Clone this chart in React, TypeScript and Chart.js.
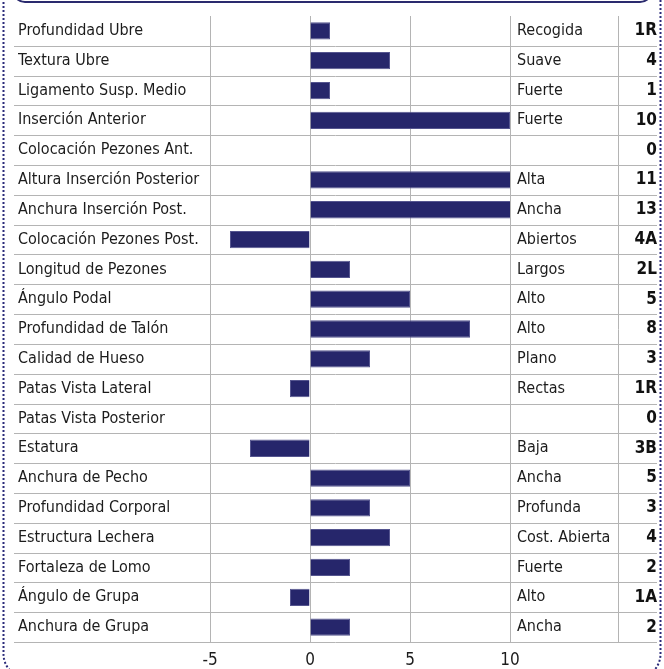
import React, { useEffect, useRef } from "react";
import { Chart, registerables } from "chart.js";

Chart.register(...registerables);

const categories = [
  "Profundidad Ubre",
  "Textura Ubre",
  "Ligamento Susp. Medio",
  "Inserción Anterior",
  "Colocación Pezones Ant.",
  "Altura Inserción Posterior",
  "Anchura Inserción Post.",
  "Colocación Pezones Post.",
  "Longitud de Pezones",
  "Ángulo Podal",
  "Profundidad de Talón",
  "Calidad de Hueso",
  "Patas Vista Lateral",
  "Patas Vista Posterior",
  "Estatura",
  "Anchura de Pecho",
  "Profundidad Corporal",
  "Estructura Lechera",
  "Fortaleza de Lomo",
  "Ángulo de Grupa",
  "Anchura de Grupa",
];

const values = [1, 4, 1, 10, 0, 11, 13, -4, 2, 5, 8, 3, -1, 0, -3, 5, 3, 4, 2, -1, 2];

const descriptors = [
  "Recogida", "Suave", "Fuerte", "Fuerte", "", "Alta", "Ancha", "Abiertos", "Largos",
  "Alto", "Alto", "Plano", "Rectas", "", "Baja", "Ancha", "Profunda", "Cost. Abierta",
  "Fuerte", "Alto", "Ancha",
];

const scoreLabels = [
  "1R", "4", "1", "10", "0", "11", "13", "4A", "2L", "5", "8", "3", "1R", "0", "3B",
  "5", "3", "4", "2", "1A", "2",
];

const xMin = -5;
const xMax = 10;
const xStep = 5;

const FONT = "'Liberation Sans Narrow', 'DejaVu Sans Condensed', 'Arial Narrow', sans-serif";
const NAVY = "#26266b";
const GRID = "#b4b4b4";
const TEXT = "#1c1c1c";

const framePlugin = {
  id: "frame",
  beforeDatasetsDraw(chart: any) {
    const { ctx, chartArea, scales } = chart;
    const y = scales.y;
    ctx.save();
    ctx.strokeStyle = GRID;
    ctx.lineWidth = 1;
    const n = categories.length;
    for (let i = 1; i <= n; i++) {
      let yy;
      if (i < n) yy = (y.getPixelForValue(i - 1) + y.getPixelForValue(i)) / 2;
      else yy = chartArea.bottom;
      yy = Math.round(yy) + 0.5;
      ctx.beginPath();
      ctx.moveTo(14, yy);
      ctx.lineTo(657, yy);
      ctx.stroke();
    }
    ctx.restore();
  },
  afterDraw(chart: any) {
    const { ctx } = chart;
    ctx.save();
    ctx.strokeStyle = "#2a2a6e";
    ctx.lineWidth = 2;
    ctx.beginPath();
    const l = 13, r = 652, b = 2, rad = 12;
    ctx.moveTo(l, -20);
    ctx.arcTo(l, b, l + rad, b, rad);
    ctx.arcTo(r, b, r, -20, rad);
    ctx.lineTo(r, -20);
    ctx.stroke();
    ctx.strokeStyle = "#2b2b7a";
    ctx.lineWidth = 2;
    ctx.setLineDash([2, 2]);
    ctx.beginPath();
    const L = 3.5, R = 660.5, B = 678, T = -30, rr = 24;
    ctx.moveTo(L, T);
    ctx.arcTo(L, B, L + rr, B, rr);
    ctx.arcTo(R, B, R, T, rr);
    ctx.lineTo(R, T);
    ctx.stroke();
    ctx.restore();
  },
};

export default function App() {
  const ref = useRef<HTMLCanvasElement | null>(null);
  useEffect(() => {
    document.body.style.margin = "0";
    const canvas = ref.current!;
    const chart = new Chart(canvas, {
      type: "bar",
      data: {
        labels: categories,
        datasets: [
          {
            data: values,
            backgroundColor: NAVY,
            borderColor: "#55558f",
            borderWidth: 1,
            barPercentage: 0.58,
            categoryPercentage: 1,
          },
        ],
      },
      options: {
        indexAxis: "y",
        animation: false,
        responsive: false,
        maintainAspectRatio: false,
        layout: { padding: { left: 18, right: 7, top: 16, bottom: 0 } },
        plugins: { legend: { display: false }, tooltip: { enabled: false } },
        scales: {
          x: {
            type: "linear",
            min: xMin,
            max: xMax,
            afterFit(s: any) {
              s.height = 27;
            },
            ticks: {
              stepSize: xStep,
              color: TEXT,
              font: { family: FONT, size: 17, lineHeight: 1 },
              padding: 10,
            },
            grid: { color: GRID, drawTicks: false, lineWidth: 1 },
            border: { display: false },
          },
          y: {
            type: "category",
            position: "left",
            offset: true,
            afterFit(s: any) {
              s.width = 192;
              s.paddingTop = 0;
              s.paddingBottom = 0;
            },
            ticks: {
              crossAlign: "far",
              padding: 0,
              color: TEXT,
              font: { family: FONT, size: 16 },
              autoSkip: false,
            },
            grid: { display: false },
            border: { display: false },
          },
          y2: {
            type: "category",
            position: "right",
            labels: descriptors,
            offset: true,
            afterFit(s: any) {
              s.width = 108;
              s.paddingTop = 0;
              s.paddingBottom = 0;
            },
            ticks: {
              crossAlign: "near",
              padding: 7,
              color: TEXT,
              font: { family: FONT, size: 16 },
              autoSkip: false,
            },
            grid: { display: false, drawTicks: false },
            border: { display: false },
          },
          y3: {
            type: "category",
            position: "right",
            labels: scoreLabels,
            offset: true,
            afterFit(s: any) {
              s.width = 39;
              s.paddingTop = 0;
              s.paddingBottom = 0;
            },
            ticks: {
              crossAlign: "far",
              padding: 0,
              color: "#111",
              font: { family: FONT, size: 17, weight: "bold" },
              autoSkip: false,
            },
            grid: { display: false, drawTicks: false },
            border: { display: true, color: GRID, width: 1 },
          },
        },
      },
      plugins: [framePlugin],
    } as any);
    return () => chart.destroy();
  }, []);
  return (
    <div style={{ width: 664, height: 669, background: "#fff" }}>
      <canvas ref={ref} width={664} height={669} />
    </div>
  );
}
